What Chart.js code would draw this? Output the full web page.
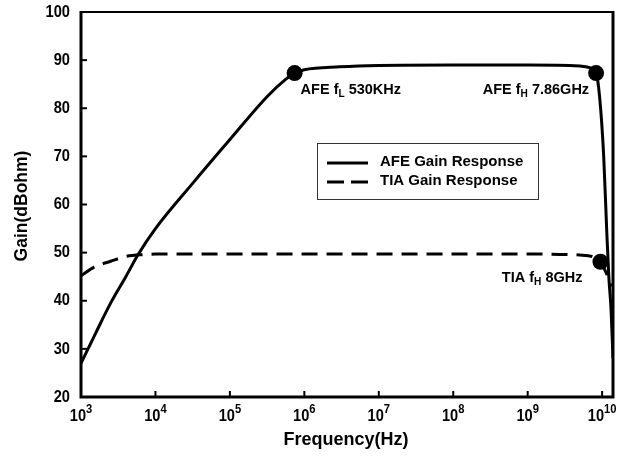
<!DOCTYPE html>
<html>
<head>
<meta charset="utf-8">
<script src="https://cdn.jsdelivr.net/npm/chart.js@4.4.0/dist/chart.umd.min.js"></script>
<style>
  body { margin: 0; background: #fff; }
  canvas { display: block; }
</style>
</head>
<body>
<canvas id="grafico" width="630" height="462"></canvas>
<script>
// valores
const afeFreq = [1e3, 1.6e3, 2.5e3, 4e3, 5.8e3, 1e4, 3.2e4, 1e5, 3.2e5, 5.6e5, 7.4e5, 1e6, 3e6, 1e7, 1e8, 1e9, 5e9, 7e9, 8.3e9, 9.3e9, 1.05e10, 1.15e10, 1.23e10, 1.32e10, 1.4e10];
const afeGain = [27, 33.5, 39.5, 45, 49.5, 55, 64.5, 73.5, 82.5, 86, 87.3, 88, 88.6, 88.9, 89, 89, 88.8, 88.4, 87.3, 82, 70, 55, 45, 38, 28];

const tiaFreq = [1e3, 1.5e3, 2.5e3, 4e3, 7e3, 1e4, 1e5, 1e7, 1e9, 5e9, 8e9, 9.5e9, 1.12e10, 1.35e10];
const tiaGain = [45.2, 47, 48.2, 49.2, 49.6, 49.7, 49.7, 49.7, 49.7, 49.5, 49, 48.1, 46, 43];

const marcFreq = [7.4e5, 8.3e9, 9.5e9];
const marcGain = [87.3, 87.3, 48.1];

const yTicks = [20, 30, 40, 50, 60, 70, 80, 90, 100];
const xExpoentes = [3, 4, 5, 6, 7, 8, 9, 10];

const pares = (xs, ys) => xs.map((x, i) => ({ x, y: ys[i] }));

const fonteTxt = '"Liberation Sans", Arial, sans-serif';

// texto estreito (tipo Arial Narrow) via escala horizontal
function textoEstreito(ctx, t, x, y, tam) {
  ctx.save();
  ctx.translate(x, y);
  ctx.scale(0.86, 1);
  ctx.font = 'bold ' + tam + 'px ' + fonteTxt;
  ctx.fillText(t, 0, 0);
  ctx.restore();
}

// texto com subscrito: partes [texto, sub?]
function textoSub(ctx, partes, x, y, alinhar, tam) {
  let larg = 0;
  partes.forEach(([t, sub]) => {
    ctx.font = 'bold ' + (sub ? tam * 0.7 : tam) + 'px ' + fonteTxt;
    larg += ctx.measureText(t).width;
  });
  let cx = alinhar === 'right' ? x - larg : x;
  ctx.textAlign = 'left';
  ctx.textBaseline = 'alphabetic';
  partes.forEach(([t, sub]) => {
    ctx.font = 'bold ' + (sub ? tam * 0.7 : tam) + 'px ' + fonteTxt;
    ctx.fillText(t, cx, sub ? y + 3 : y);
    cx += ctx.measureText(t).width;
  });
}

const decoracao = {
  id: 'decoracao',
  afterDraw(chart) {
    const { ctx, chartArea: a, scales: { x, y } } = chart;
    ctx.save();
    ctx.fillStyle = '#000';
    ctx.strokeStyle = '#000';

    // moldura
    ctx.lineWidth = 2;
    ctx.beginPath();
    ctx.moveTo(a.left, a.top);
    ctx.lineTo(a.right, a.top);
    ctx.stroke();
    ctx.lineWidth = 3;
    ctx.beginPath();
    ctx.moveTo(a.left, a.top - 1);
    ctx.lineTo(a.left, a.bottom);
    ctx.lineTo(a.right, a.bottom);
    ctx.lineTo(a.right, a.top - 1);
    ctx.stroke();

    // ticks para dentro
    ctx.lineWidth = 2;
    yTicks.forEach(v => {
      const py = y.getPixelForValue(v);
      ctx.beginPath();
      ctx.moveTo(a.left, py);
      ctx.lineTo(a.left + 6, py);
      ctx.stroke();
    });
    xExpoentes.forEach(e => {
      const px = x.getPixelForValue(Math.pow(10, e));
      ctx.beginPath();
      ctx.moveTo(px, a.bottom);
      ctx.lineTo(px, a.bottom - 6);
      ctx.stroke();
    });

    // rótulos do eixo y
    ctx.textAlign = 'right';
    ctx.textBaseline = 'middle';
    yTicks.forEach(v => textoEstreito(ctx, String(v), a.left - 11, y.getPixelForValue(v), 17));

    // rótulos do eixo x: 10^n
    ctx.textAlign = 'left';
    ctx.textBaseline = 'alphabetic';
    xExpoentes.forEach(e => {
      const px = x.getPixelForValue(Math.pow(10, e));
      ctx.font = 'bold 17px ' + fonteTxt;
      const wb = ctx.measureText('10').width * 0.86;
      ctx.font = 'bold 13px ' + fonteTxt;
      const we = ctx.measureText(String(e)).width * 0.86;
      const x0 = px - (wb + we) / 2;
      textoEstreito(ctx, '10', x0, a.bottom + 24, 17);
      textoEstreito(ctx, String(e), x0 + wb, a.bottom + 16, 13);
    });

    // títulos dos eixos
    ctx.font = 'bold 18px ' + fonteTxt;
    ctx.textAlign = 'center';
    ctx.textBaseline = 'middle';
    ctx.fillText('Frequency(Hz)', (a.left + a.right) / 2 - 1, 440);
    ctx.font = 'bold 17.5px ' + fonteTxt;
    ctx.save();
    ctx.translate(22, 206);
    ctx.rotate(-Math.PI / 2);
    ctx.fillText('Gain(dBohm)', 0, 0);
    ctx.restore();

    // anotações dos marcadores
    const m = marcFreq.map((f, i) => ({ x: x.getPixelForValue(f), y: y.getPixelForValue(marcGain[i]) }));
    textoSub(ctx, [['AFE f'], ['L', true], [' 530KHz']], m[0].x + 6, m[0].y + 21, 'left', 14.5);
    textoSub(ctx, [['AFE f'], ['H', true], [' 7.86GHz']], m[1].x - 7, m[1].y + 21, 'right', 14.5);
    textoSub(ctx, [['TIA f'], ['H', true], [' 8GHz']], m[2].x - 18, m[2].y + 20, 'right', 14.5);

    // legenda
    const lx = 317, ly = 143, lw = 221, lh = 56;
    ctx.lineWidth = 1;
    ctx.strokeStyle = '#333';
    ctx.strokeRect(lx + 0.5, ly + 0.5, lw, lh);
    ctx.strokeStyle = '#000';
    ctx.lineWidth = 3;
    ctx.beginPath();
    ctx.moveTo(327, 163);
    ctx.lineTo(368, 163);
    ctx.stroke();
    ctx.setLineDash([17, 7]);
    ctx.beginPath();
    ctx.moveTo(327, 182);
    ctx.lineTo(368, 182);
    ctx.stroke();
    ctx.setLineDash([]);
    ctx.font = 'bold 15px ' + fonteTxt;
    ctx.textAlign = 'left';
    ctx.textBaseline = 'middle';
    ctx.fillText('AFE Gain Response', 380, 162);
    ctx.fillText('TIA Gain Response', 380, 181);

    ctx.restore();
  }
};

new Chart(document.getElementById('grafico'), {
  type: 'scatter',
  data: {
    datasets: [
      {
        label: 'AFE Gain Response',
        data: pares(afeFreq, afeGain),
        showLine: true,
        borderColor: '#000',
        borderWidth: 3,
        pointRadius: 0,
        cubicInterpolationMode: 'monotone',
      },
      {
        label: 'TIA Gain Response',
        data: pares(tiaFreq, tiaGain),
        showLine: true,
        borderColor: '#000',
        borderWidth: 3,
        borderDash: [16, 9],
        pointRadius: 0,
        cubicInterpolationMode: 'monotone',
      },
      {
        label: 'marcadores',
        data: pares(marcFreq, marcGain),
        showLine: false,
        pointRadius: 8,
        backgroundColor: '#000',
        borderColor: '#000',
        borderWidth: 0,
        clip: false,
      },
    ]
  },
  options: {
    responsive: false,
    animation: false,
    layout: { padding: { top: 12, right: 17, left: 0, bottom: 0 } },
    plugins: {
      legend: { display: false },
      tooltip: { enabled: false },
    },
    scales: {
      x: {
        type: 'logarithmic',
        min: 1e3,
        max: 1.4e10,
        grid: { display: false },
        border: { display: false },
        ticks: { display: false },
        afterFit: s => { s.height = 65; },
      },
      y: {
        min: 20,
        max: 100,
        grid: { display: false },
        border: { display: false },
        ticks: { display: false },
        afterFit: s => { s.width = 81; },
      }
    }
  },
  plugins: [decoracao]
});
</script>
</body>
</html>
